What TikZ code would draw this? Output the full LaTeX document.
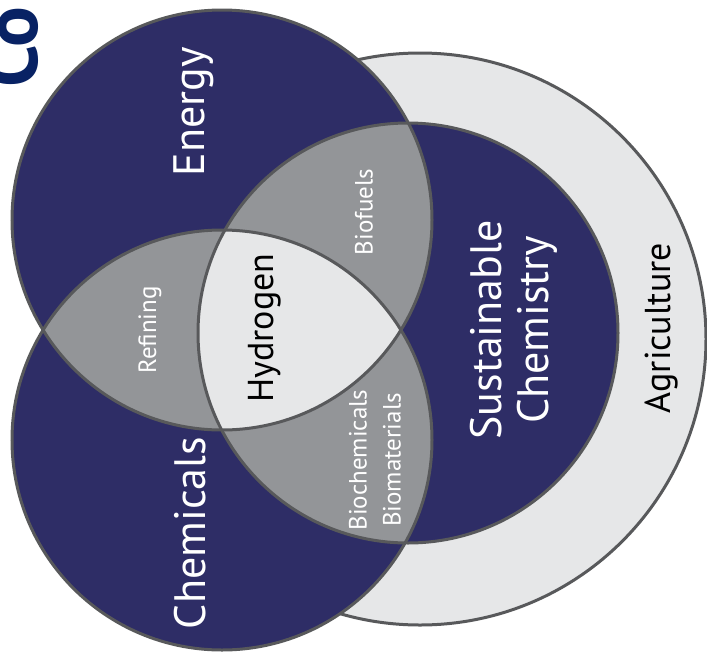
\documentclass[tikz,border=0pt]{standalone}
\usepackage{fontspec}
\setmainfont{PT Sans}
\definecolor{navy}{RGB}{46,45,102}
\definecolor{lapgray}{RGB}{147,149,152}
\definecolor{coregray}{RGB}{230,231,232}
\definecolor{rimgray}{RGB}{88,89,91}
\definecolor{logoblue}{RGB}{8,34,100}
\tikzset{
	navyfill/.style = {
		fill=navy
	},
	lapfill/.style = {
		fill=lapgray
	},
	corefill/.style = {
		fill=coregray
	},
	rimline/.style = {
		draw=rimgray,
		line width=3pt
	},
	bigtext/.style = {
		white, rotate=90, align=center,
		font=\fontsize{44}{47}\selectfont
	},
	midtext/.style = {
		black, rotate=90,
		font=\fontsize{36}{40}\selectfont
	},
	smalltext/.style = {
		white, rotate=90, align=center,
		font=\fontsize{25}{34}\selectfont
	}
}

\begin{document}
\begin{tikzpicture}[x=1pt, y=-1pt]
\useasboundingbox (0,0) rectangle (707,654);
\clip (0,0) rectangle (707,654);
\coordinate (energy) at (222,220);
\coordinate (chem) at (222,440);
\coordinate (sust) at (408,333);
\coordinate (agri) at (420,339);

% cropped heading at the top left
\node[logoblue, rotate=90, anchor=base west, inner sep=0pt,
  font=\fontsize{76}{76}\selectfont\bfseries] (logo) at (37,88) {Co};

\fill[corefill] (agri) circle (286);
\draw[rimline] (agri) circle (286);
\fill[navyfill] (energy) circle (210);
\fill[navyfill] (chem) circle (210);
\fill[navyfill] (sust) circle (210);
\begin{scope}
\clip (energy) circle (210);
\fill[lapfill] (chem) circle (210);
\fill[lapfill] (sust) circle (210);
\end{scope}
\begin{scope}
\clip (chem) circle (210);
\fill[lapfill] (sust) circle (210);
\clip (energy) circle (210);
\fill[corefill] (sust) circle (210);
\end{scope}
\draw[rimline] (energy) circle (210);
\draw[rimline] (chem) circle (210);
\draw[rimline] (sust) circle (210);

\node[bigtext] (energylabel) at (194,112) {Energy};
\node[bigtext] (chemlabel) at (190,533) {Chemicals};
\node[bigtext] (sustlabel) at (514,330) {Sustainable\\Chemistry};
\node[midtext] (agrilabel) at (662,328) {Agriculture};
\node[midtext] (hydrolabel) at (265,328) {Hydrogen};
\node[smalltext] (fuellabel) at (364,212) {Biofuels};
\node[smalltext] (refinelabel) at (150,330) {Refining};
\node[smalltext] (biolabel) at (375,460) {Biochemicals\\Biomaterials};
\end{tikzpicture}
\end{document}
